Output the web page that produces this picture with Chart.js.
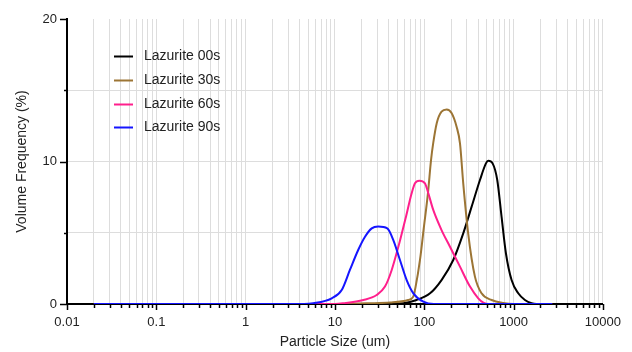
<!DOCTYPE html>
<html>
<head>
<meta charset="utf-8">
<script src="https://cdn.jsdelivr.net/npm/chart.js@4/dist/chart.umd.min.js"></script>
<style>
  html, body { margin: 0; padding: 0; background: #fff; }
  #wrap { width: 632px; height: 352px; }
</style>
</head>
<body>
<div id="wrap"><canvas id="c" width="632" height="352"></canvas></div>
<script>
// ---- data ----
const seriesLabels = ['Lazurite 00s', 'Lazurite 30s', 'Lazurite 60s', 'Lazurite 90s'];
const seriesColors = ['#000000', '#9c7535', '#ff1f8c', '#1515ff'];

const size00 = [0.02, 35, 58, 82, 116, 156, 211, 273, 339, 420, 490, 520, 582, 656, 733, 820, 949, 1127, 1339, 1590, 1800, 2700];
const vol00  = [0, 0, 0.05, 0.28, 0.75, 1.68, 3.09, 4.96, 6.83, 8.7, 9.87, 10.06, 9.87, 8.7, 6.13, 3.56, 1.68, 0.75, 0.28, 0.05, 0, 0];

const size30 = [0.02, 12, 22.6, 41.5, 66, 75, 80, 89.5, 99, 110, 119, 126, 138, 156, 178, 202, 230, 251, 273, 310, 369, 438, 567, 765, 1000, 2700];
const vol30  = [0, 0, 0.05, 0.1, 0.28, 0.5, 1.22, 3.09, 5.4, 7.8, 10.1, 11.3, 12.7, 13.5, 13.65, 13.4, 12.44, 11.28, 8.47, 4.96, 1.92, 0.75, 0.28, 0.07, 0, 0];

const size60 = [0.02, 10, 12.4, 20.8, 29.3, 36.3, 43.2, 52.5, 62.4, 72.2, 78.7, 88, 101.8, 111, 126, 156, 194, 251, 325, 402, 458, 525, 2700];
const vol60  = [0, 0, 0.05, 0.28, 0.63, 1.22, 2.39, 4.26, 6.13, 7.77, 8.47, 8.65, 8.47, 7.77, 6.6, 5.19, 4.02, 2.62, 1.22, 0.4, 0.1, 0, 0];

const size90 = [0.02, 4.5, 5.7, 9.2, 11.9, 14.7, 18.2, 21.7, 25.8, 30.5, 38.5, 45, 53.4, 63.5, 75.4, 97.6, 128, 2700];
const vol90  = [0, 0, 0.05, 0.4, 0.98, 2.39, 3.79, 4.72, 5.31, 5.43, 5.31, 4.49, 3.09, 1.68, 0.75, 0.16, 0, 0];

const xMajorTicks = [0.01, 0.1, 1, 10, 100, 1000, 10000];
const xTickLabels = ['0.01', '0.1', '1', '10', '100', '1000', '10000'];
const yTickLabels = { 0: '0', 10: '10', 20: '20' };

const xTitle = 'Particle Size (um)';
const yTitle = 'Volume Frequency (%)';

// ---- build ----
function pts(xs, ys) { return xs.map((x, i) => ({ x: x, y: ys[i] })); }
const sizes = [size00, size30, size60, size90];
const vols = [vol00, vol30, vol60, vol90];

const datasets = seriesLabels.map((lab, i) => ({
  label: lab,
  data: pts(sizes[i], vols[i]),
  borderColor: seriesColors[i],
  backgroundColor: seriesColors[i],
  borderWidth: 2,
  pointRadius: 0,
  fill: false,
  cubicInterpolationMode: 'monotone',
  order: 3 - i
}));

// all tick values: decades plus 2..9 multiples
const xAllTicks = [];
xMajorTicks.forEach((d, k) => {
  xAllTicks.push({ value: d, major: true });
  if (k < xMajorTicks.length - 1) {
    for (let m = 2; m <= 9; m++) xAllTicks.push({ value: +(d * m).toPrecision(6), major: false });
  }
});

const FONT = "'Liberation Sans', Arial, sans-serif";
const TEXT = '#222';

const tickMarks = {
  id: 'tickMarks',
  afterDatasetsDraw(chart) {
    const ctx = chart.ctx;
    const xs = chart.scales.x, ys = chart.scales.y;
    const ca = chart.chartArea;
    ctx.save();
    ctx.strokeStyle = '#000';
    ctx.lineWidth = 1.5;
    xAllTicks.forEach(t => {
      const px = Math.round(xs.getPixelForValue(t.value)) + 0.5;
      ctx.beginPath();
      ctx.moveTo(px, ca.bottom);
      ctx.lineTo(px, ca.bottom + (t.major ? 6 : 4));
      ctx.stroke();
    });
    [0, 5, 10, 15, 20].forEach(v => {
      const py = Math.round(ys.getPixelForValue(v)) + 0.5;
      const major = (v % 10 === 0);
      ctx.beginPath();
      ctx.moveTo(ca.left, py);
      ctx.lineTo(ca.left - (major ? 7 : 3), py);
      ctx.stroke();
    });
    ctx.restore();
  }
};

const customLegend = {
  id: 'customLegend',
  afterDatasetsDraw(chart) {
    const ctx = chart.ctx;
    ctx.save();
    ctx.font = '14px ' + FONT;
    ctx.textBaseline = 'middle';
    ctx.textAlign = 'left';
    const y0 = 56, dy = 23.8;
    seriesLabels.forEach((lab, i) => {
      const y = Math.round(y0 + i * dy) + 0.5;
      ctx.strokeStyle = seriesColors[i];
      ctx.lineWidth = 2;
      ctx.beginPath();
      ctx.moveTo(114, y);
      ctx.lineTo(133, y);
      ctx.stroke();
      ctx.fillStyle = TEXT;
      ctx.fillText(lab, 144, y);
    });
    ctx.restore();
  }
};

new Chart(document.getElementById('c'), {
  type: 'line',
  data: { datasets: datasets },
  options: {
    responsive: false,
    animation: false,
    devicePixelRatio: 1,
    layout: { padding: { top: 19, right: 29, left: 0, bottom: 0 } },
    plugins: { legend: { display: false }, tooltip: { enabled: false } },
    scales: {
      x: {
        type: 'logarithmic',
        min: 0.01,
        max: 10000,
        afterBuildTicks(scale) { scale.ticks = xAllTicks.map(t => ({ value: t.value, major: t.major })); },
        afterFit(scale) { scale.height = 48; },
        ticks: {
          autoSkip: false,
          maxRotation: 0,
          padding: 11,
          color: TEXT,
          font: { family: FONT, size: 13 },
          callback(value) {
            const k = xMajorTicks.indexOf(value);
            return k >= 0 ? xTickLabels[k] : '';
          }
        },
        grid: {
          drawTicks: false,
          color(ctx) { return ctx.tick && ctx.tick.value === 0.01 ? 'rgba(0,0,0,0)' : '#dddddd'; },
          lineWidth: 1
        },
        border: { display: true, color: '#000', width: 2 },
        title: {
          display: true,
          text: xTitle,
          color: TEXT,
          font: { family: FONT, size: 14 },
          padding: { top: 0, bottom: 1 }
        }
      },
      y: {
        type: 'linear',
        min: 0,
        max: 20,
        afterBuildTicks(scale) { scale.ticks = [0, 5, 10, 15, 20].map(v => ({ value: v })); },
        afterFit(scale) { scale.width = 67; },
        ticks: {
          padding: 10,
          color: TEXT,
          font: { family: FONT, size: 13 },
          callback(value) { return yTickLabels[value] !== undefined ? yTickLabels[value] : ''; }
        },
        grid: {
          drawTicks: false,
          color(ctx) { const v = ctx.tick && ctx.tick.value; return (v === 5 || v === 10 || v === 15) ? '#dddddd' : 'rgba(0,0,0,0)'; },
          lineWidth: 1
        },
        border: { display: true, color: '#000', width: 2 },
        title: {
          display: true,
          text: yTitle,
          color: TEXT,
          font: { family: FONT, size: 14 },
          padding: { top: 14, bottom: 0 }
        }
      }
    }
  },
  plugins: [tickMarks, customLegend]
});
</script>
</body>
</html>
